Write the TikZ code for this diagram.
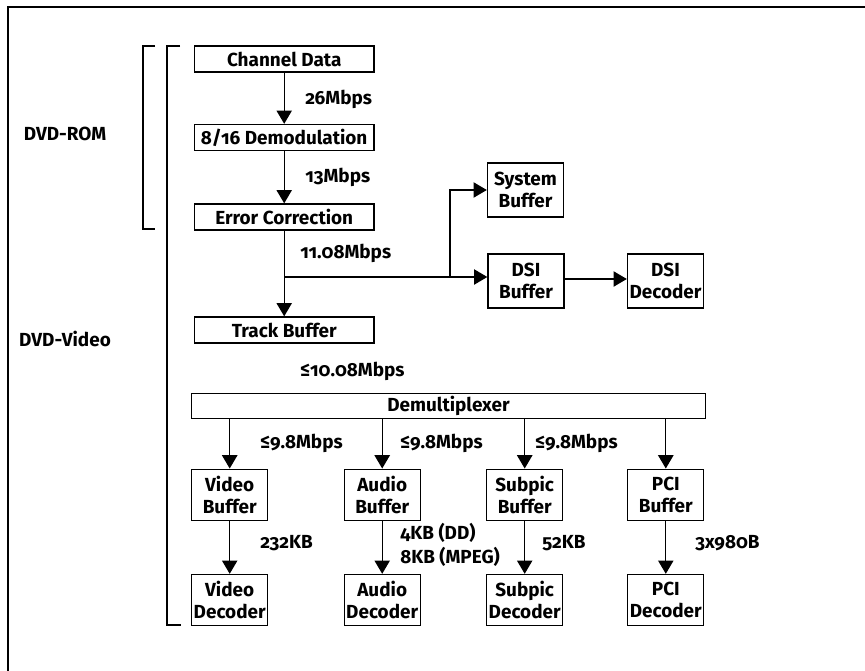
\documentclass[tikz,border=0pt]{standalone}
\usepackage{fontspec}
\setmainfont{Fira Sans}[Numbers=OldStyle]
\usetikzlibrary{arrows.meta}
\begin{document}
\begin{tikzpicture}[x=0.75pt,y=-0.75pt,
  font=\fontsize{14.2}{16.7}\selectfont\bfseries,
  box/.style={draw,line width=1pt,inner sep=0pt,align=center},
  wide/.style={box,minimum width=179.5*0.75pt,minimum height=26*0.75pt},
  small/.style={box,minimum width=76*0.75pt,minimum height=51*0.75pt},
  mid/.style={box,minimum width=76*0.75pt,minimum height=54*0.75pt},
  lbl/.style={anchor=base west,inner sep=0pt},
  arr/.style={line width=1pt,-{Triangle[width=11.5pt,length=10pt]}},
  ln/.style={line width=1pt},
  frame/.style={line width=1.6pt}]
\useasboundingbox (0,0) rectangle (865,671);
% frame (top and left edges only)
\draw[frame] (865,7) -- (8,7) -- (8,671);
% brackets
\coordinate (r1) at (155,46); \coordinate (r2) at (143,46);
\coordinate (r3) at (143,229); \coordinate (r4) at (155,229);
\draw[ln] (r1) -- (r2) -- (r3) -- (r4);
\coordinate (v1) at (180,46); \coordinate (v2) at (167,46);
\coordinate (v3) at (167,625); \coordinate (v4) at (181,625);
\draw[ln] (v1) -- (v2) -- (v3) -- (v4);
\node[lbl,anchor=base] (rom) at (65,140) {DVD-ROM};
\node[lbl,anchor=base] (vid) at (65,346.7) {DVD-Video};
% main column
\node[wide] (cd) at (284.2,59) {Channel Data};
\node[wide] (dm) at (284.2,137.5) {8/16 Demodulation};
\node[wide] (ec) at (284.2,217) {Error Correction};
\node[wide] (tb) at (284.2,330) {Track Buffer};
\draw[arr] (cd) -- (dm);
\draw[arr] (dm) -- (ec);
\node[lbl] (l1) at (305,104.3) {26Mbps};
\node[lbl] (l2) at (305,182.7) {13Mbps};
\node[lbl] (l3) at (300,258.3) {11.08Mbps};
\node[lbl] (l4) at (300,376) {≤10.08Mbps};
% branch
\node[mid] (sb) at (525.5,190) {System\\Buffer};
\node[mid] (db) at (526,281) {DSI\\Buffer};
\node[mid] (dd) at (665.5,281) {DSI\\Decoder};
\coordinate (j) at (284.2,277);
\coordinate (k) at (450,277);
\draw[ln] (ec.south) -- (j);
\draw[arr] (j) -- (tb.north);
\draw[arr] (j) -- (db.west |- j);
\draw[arr] (k) |- (sb.west);
\draw[arr] (db.east |- 0,279) -- (dd.west |- 0,279);
% demultiplexer
\node[box,minimum width=514*0.75pt,minimum height=25*0.75pt] (dx) at (448.5,406) {Demultiplexer};
\node[small] (vb) at (229.7,494.7) {Video\\Buffer};
\node[small] (ab) at (382.2,494.7) {Audio\\Buffer};
\node[small] (sp) at (524.7,494.7) {Subpic\\Buffer};
\node[small] (pb) at (665.8,494.7) {PCI\\Buffer};
\node[small] (vd) at (229.7,600) {Video\\Decoder};
\node[small] (ad) at (382.2,600) {Audio\\Decoder};
\node[small] (sd) at (524.7,600) {Subpic\\Decoder};
\node[small] (pd) at (665.8,600) {PCI\\Decoder};
\foreach \b/\d in {vb/vd,ab/ad,sp/sd,pb/pd}{
  \draw[arr] (dx.south -| \b.north) -- (\b.north);
  \draw[arr] (\b) -- (\d);
}
\node[lbl] (m1) at (260,448.3) {≤9.8Mbps};
\node[lbl] (m2) at (400,448.3) {≤9.8Mbps};
\node[lbl] (m3) at (535,448.3) {≤9.8Mbps};
\node[lbl] (k1) at (260,548.3) {232KB};
\node[lbl] (k2) at (400,539) {4KB (DD)};
\node[lbl] (k3) at (400,563.3) {8KB (MPEG)};
\node[lbl] (k4) at (542,548.3) {52KB};
\node[lbl] (k5) at (695,548.3) {3x980B};
\end{tikzpicture}
\end{document}
